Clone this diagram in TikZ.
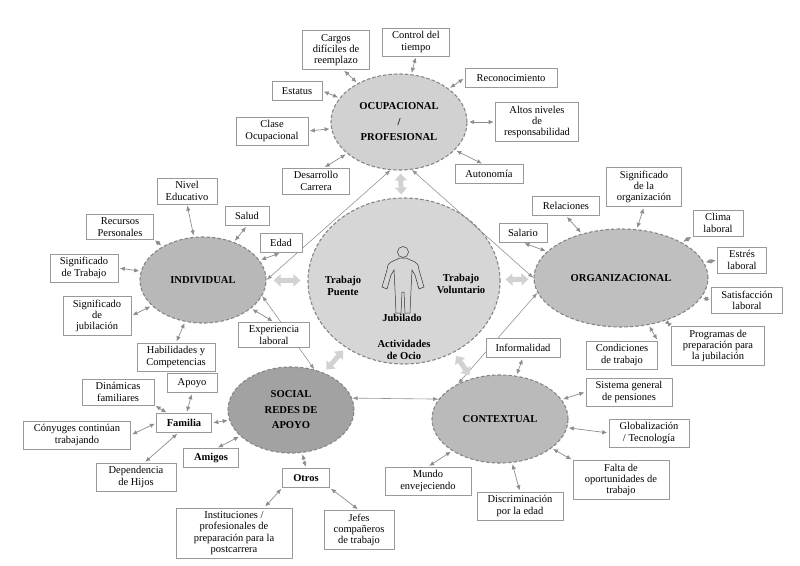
\documentclass[tikz,border=0pt]{standalone}
\usepackage{fontspec}
\setmainfont{Liberation Serif}
\usetikzlibrary{shapes.geometric,arrows.meta}

\begin{document}
\begin{tikzpicture}[x=1pt,y=-1pt,font=\fontsize{10.5}{11.3}\selectfont,
 box/.style={draw=gray!80,line width=0.6pt,fill=white,align=center,inner xsep=6pt,inner ysep=3.5pt,minimum height=19pt,minimum width=#1},
 box/.default=40pt,
 area/.style={ellipse,draw=gray!95,line width=1.1pt,dash pattern=on 3.5pt off 2pt,inner sep=0pt,align=center,font=\fontsize{10.6}{15.5}\selectfont\bfseries},
 link/.style={draw=gray!90,line width=0.7pt,{Latex[length=5pt,width=4.5pt]}-{Latex[length=5pt,width=4.5pt]},shorten <=1.5pt,shorten >=1.5pt},
 bridge/.style={draw=gray!85,line width=0.6pt,{Latex[length=5.5pt,width=4pt]}-{Latex[length=5.5pt,width=4pt]}},
 fat/.style={draw=gray!35,line width=5pt,{Triangle[length=7pt,width=12pt]}-{Triangle[length=7pt,width=12pt]}},
 core/.style={font=\fontsize{10.6}{12}\selectfont\bfseries,align=center}]
 \useasboundingbox (0,0) rectangle (800,565);

 \node[area,fill=gray!36,minimum width=136pt,minimum height=96pt] (ocup) at (399,122) {OCUPACIONAL\\/\\PROFESIONAL};
 \node[area,fill=gray!32,minimum width=192pt,minimum height=166pt] (jub) at (404,281) {};
 \node[area,fill=gray!56,minimum width=126pt,minimum height=86pt] (indiv) at (203,280) {INDIVIDUAL};
 \node[area,fill=gray!50,minimum width=174pt,minimum height=98pt] (org) at (621,278) {ORGANIZACIONAL};
 \node[area,fill=gray!73,minimum width=126pt,minimum height=86pt] (social) at (291,410) {SOCIAL\\REDES DE\\APOYO};
 \node[area,fill=gray!54,minimum width=136pt,minimum height=88pt] (contex) at (500,419) {CONTEXTUAL};

 \node[core] (puente) at (343,286) {Trabajo\\Puente};
 \node[core] (volunt) at (461,284) {Trabajo\\Voluntario};
 \node[core] (jubil) at (402,318) {Jubilado};
 \node[core] (ocio) at (404,350) {Actividades\\de Ocio};
 \draw[gray!40!black,line width=0.5pt] (403,252) circle[radius=5.5];
 \draw[gray!40!black,line width=0.5pt] (400,258) -- (391,262) .. controls (388,264) .. (387,270) -- (382,287) -- (387,289) -- (391,275) -- (394,270) -- (395,290) -- (396,313) -- (401,313) -- (402,292) -- (404,292) -- (405,313) -- (410,313) -- (411,290) -- (412,270) -- (415,275) -- (419,289) -- (424,287) -- (419,270) .. controls (418,264) .. (415,262) -- (406,258) -- cycle;

 \draw[bridge] (ocup.-100) -- (indiv.east);
 \draw[bridge] (ocup.-75) -- (org.west);
 \draw[bridge] (indiv.-15) -- (social.60);
 \draw[bridge] (org.-170) -- (contex.140);
 \draw[bridge] (social.11) -- (contex.162);

 \draw[fat,shorten <=3pt,shorten >=3pt] (jub) -- (ocup);
 \draw[fat,shorten <=7pt,shorten >=7pt] (jub) -- (indiv);
 \draw[fat,shorten <=5pt,shorten >=5pt] (jub) -- (org);
 \draw[fat,shorten <=4pt,shorten >=4pt] (jub) -- (social);
 \draw[fat,shorten <=4pt,shorten >=4pt] (jub) -- (contex);

 \node[box=67pt] (cargos) at (336,50) {Cargos\\difíciles de\\reemplazo};
 \node[box=67pt] (control) at (416,42) {Control del\\tiempo};
 \node[box=92pt] (recon) at (511,78) {Reconocimiento};
 \node[box=50pt] (estatus) at (297,91) {Estatus};
 \node[box=72pt] (clase) at (272,131) {Clase\\Ocupacional};
 \node[box=83pt] (altos) at (537,122) {Altos niveles\\de\\responsabilidad};
 \node[box=67pt] (desarr) at (316,181) {Desarrollo\\Carrera};
 \node[box=68pt] (auton) at (489,174) {Autonomía};

 \node[box=60pt] (nivel) at (187,191) {Nivel\\Educativo};
 \node[box=44pt] (salud) at (247,216) {Salud};
 \node[box=67pt] (recursos) at (120,227) {Recursos\\Personales};
 \node[box=42pt] (edad) at (281,243) {Edad};
 \node[box=68pt] (sigtrab) at (84,268) {Significado\\de Trabajo};
 \node[box=68pt] (sigjub) at (97,316) {Significado\\de\\jubilación};
 \node[box=78pt] (habil) at (176,357) {Habilidades y\\Competencias};
 \node[box=71pt] (exper) at (274,335) {Experiencia\\laboral};

 \node[box=67pt] (relac) at (566,206) {Relaciones};
 \node[box=75pt] (sigorg) at (644,187) {Significado\\de la\\organización};
 \node[box=48pt] (salario) at (523,233) {Salario};
 \node[box=50pt] (clima) at (718,223) {Clima\\laboral};
 \node[box=49pt] (estres) at (742,260) {Estrés\\laboral};
 \node[box=71pt] (satisf) at (747,300) {Satisfacción\\laboral};
 \node[box=93pt] (prog) at (718,346) {Programas de\\preparación para\\la jubilación};
 \node[box=71pt] (cond) at (622,355) {Condiciones\\de trabajo};

 \node[box=50pt] (apoyo) at (192,383) {Apoyo};
 \node[box=72pt] (dinam) at (118,392) {Dinámicas\\familiares};
 \node[box=55pt] (familia) at (184,423) {\textbf{Familia}};
 \node[box=107pt] (conyug) at (77,435) {Cónyuges continúan\\trabajando};
 \node[box=55pt] (amigos) at (211,458) {\textbf{Amigos}};
 \node[box=80pt] (depend) at (136,477) {Dependencia\\de Hijos};
 \node[box=47pt] (otros) at (306,478) {\textbf{Otros}};
 \node[box=116pt] (instit) at (234,533) {Instituciones /\\profesionales de\\preparación para la\\postcarrera};
 \node[box=70pt] (jefes) at (359,530) {Jefes\\compañeros\\de trabajo};

 \node[box=74pt] (inform) at (523,348) {Informalidad};
 \node[box=86pt] (sistema) at (629,392) {Sistema general\\de pensiones};
 \node[box=80pt] (global) at (649,433) {Globalización\\/ Tecnología};
 \node[box=96pt] (falta) at (621,480) {Falta de\\oportunidades de\\trabajo};
 \node[box=86pt] (discrim) at (520,506) {Discriminación\\por la edad};
 \node[box=86pt] (mundo) at (428,481) {Mundo\\envejeciendo};

 \draw[link] (cargos.-70) -- (ocup);
 \draw[link] (control.south) -- (ocup);
 \draw[link] (recon.west) -- (ocup);
 \draw[link] (estatus.east) -- (ocup);
 \draw[link] (clase.east) -- (ocup);
 \draw[link] (altos.west) -- (ocup);
 \draw[link] (desarr.60) -- (ocup);
 \draw[link] (auton.120) -- (ocup);

 \draw[link] (nivel.south) -- (indiv);
 \draw[link] (salud.south) -- (indiv);
 \draw[link] (recursos.-20) -- (indiv);
 \draw[link] (edad.south) -- (indiv);
 \draw[link] (sigtrab.east) -- (indiv);
 \draw[link] (sigjub.east) -- (indiv);
 \draw[link] (habil.north) -- (indiv);
 \draw[link] (exper.north) -- (indiv);

 \draw[link] (relac.south) -- (org);
 \draw[link] (sigorg.south) -- (org);
 \draw[link] (salario.south) -- (org);
 \draw[link] (clima.south west) -- (org);
 \draw[link] (estres.west) -- (org);
 \draw[link] (satisf.west) -- (org);
 \draw[link] (prog.north west) -- (org);
 \draw[link] (cond.north east) -- (org);

 \draw[link] (familia.east) -- (social);
 \draw[link] (amigos.60) -- (social);
 \draw[link] (otros.north) -- (social);
 \draw[link] (dinam.south east) -- (familia);
 \draw[link] (apoyo.south) -- (familia);
 \draw[link] (conyug.east) -- (familia.west);
 \draw[link] (depend.60) -- (familia.-120);
 \draw[link] (instit.40) -- (otros.south west);
 \draw[link] (otros.south east) -- (jefes.north);

 \draw[link] (inform.south) -- (contex);
 \draw[link] (sistema.west) -- (contex);
 \draw[link] (global.west) -- (contex);
 \draw[link] (falta.north west) -- (contex);
 \draw[link] (discrim.north) -- (contex);
 \draw[link] (mundo.north) -- (contex);
\end{tikzpicture}
\end{document}
